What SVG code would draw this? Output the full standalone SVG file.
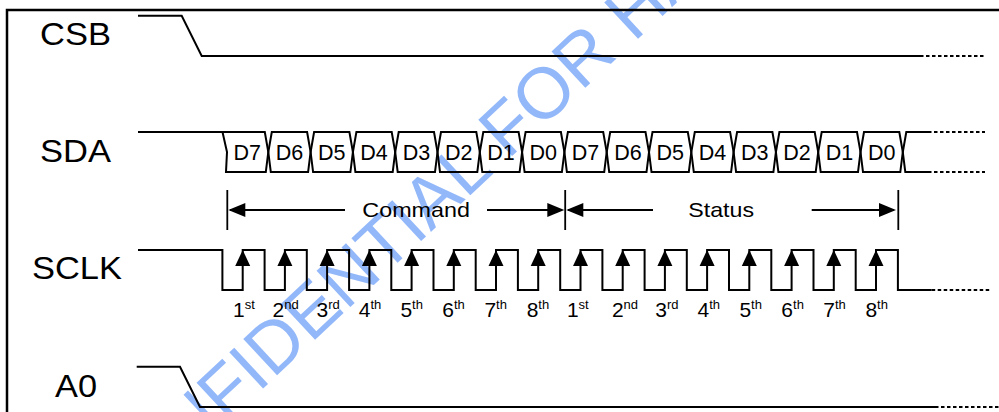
<svg xmlns="http://www.w3.org/2000/svg" xmlns:xlink="http://www.w3.org/1999/xlink" width="999" height="412" viewBox="0 0 999 412">
<style>
.w{fill:none;stroke:#000;stroke-width:2;stroke-linejoin:miter}
.dot{fill:none;stroke:#000;stroke-width:2;stroke-dasharray:3.5 2.5}
.tk{fill:none;stroke:#000;stroke-width:1.8}
.big{font-family:"Liberation Sans",Arial,sans-serif;font-size:30.5px;fill:#000}
.d{font-family:"Liberation Sans",Arial,sans-serif;font-size:21.5px;fill:#000;text-anchor:middle}
.lbl{font-family:"Liberation Sans",Arial,sans-serif;font-size:21px;fill:#000}
.o{font-family:"Liberation Sans",Arial,sans-serif;font-size:21px;fill:#000;text-anchor:middle}
.sup{font-size:13px}
.wm{font-family:"Liberation Sans",Arial,sans-serif;font-size:72px;fill:#93b8fa}
.hd{fill:#000}
</style>
<defs>
<path id="up" d="M0,0 L-7.5,16 L7.5,16 Z"/>
<path id="lt" d="M0,0 L17,-7 L17,7 Z"/>
<path id="rt" d="M0,0 L-17,-7 L-17,7 Z"/>
</defs>
<rect width="999" height="412" fill="#fff"/>
<text class="wm" transform="translate(109,532) rotate(-43)">CONFIDENTIAL FOR HA</text>
<path d="M7,412 V10 H999" fill="none" stroke="#000" stroke-width="2.5"/>

<g id="CSB">
<text class="big" x="40" y="45" textLength="71" lengthAdjust="spacingAndGlyphs">CSB</text>
<path class="w" d="M138,15.7 H181.7 L201.7,56 H920"/>
<path class="dot" d="M920,56 H985"/>
</g>

<g id="SDA">
<text class="big" x="40" y="162" textLength="71" lengthAdjust="spacingAndGlyphs">SDA</text>
<path class="w" d="M138,132 H222.5"/>
<path class="w" d="M222.5,132 H264.8 L268.3,152 L265.8,172 H226 L227,152 Z"/>
<path class="w" d="M271.8,132 H307.1 L310.6,152 L308.1,172 H270.8 L268.3,152 Z"/>
<path class="w" d="M314.1,132 H349.4 L352.9,152 L350.4,172 H313.1 L310.6,152 Z"/>
<path class="w" d="M356.4,132 H391.7 L395.2,152 L392.7,172 H355.4 L352.9,152 Z"/>
<path class="w" d="M398.7,132 H434 L437.5,152 L435,172 H397.7 L395.2,152 Z"/>
<path class="w" d="M441,132 H476.3 L479.8,152 L477.3,172 H440 L437.5,152 Z"/>
<path class="w" d="M483.3,132 H518.6 L522.1,152 L519.6,172 H482.3 L479.8,152 Z"/>
<path class="w" d="M525.6,132 H560.9 L564.4,152 L561.9,172 H524.6 L522.1,152 Z"/>
<path class="w" d="M567.9,132 H603.2 L606.7,152 L604.2,172 H566.9 L564.4,152 Z"/>
<path class="w" d="M610.2,132 H645.5 L649,152 L646.5,172 H609.2 L606.7,152 Z"/>
<path class="w" d="M652.5,132 H687.8 L691.3,152 L688.8,172 H651.5 L649,152 Z"/>
<path class="w" d="M694.8,132 H730.1 L733.6,152 L731.1,172 H693.8 L691.3,152 Z"/>
<path class="w" d="M737.1,132 H772.4 L775.9,152 L773.4,172 H736.1 L733.6,152 Z"/>
<path class="w" d="M779.4,132 H814.7 L818.2,152 L815.7,172 H778.4 L775.9,152 Z"/>
<path class="w" d="M821.7,132 H857 L860.5,152 L858,172 H820.7 L818.2,152 Z"/>
<path class="w" d="M864,132 H899.3 L902.8,152 L900.3,172 H863 L860.5,152 Z"/>
<path class="w" d="M928,132 H906.3 L902.8,152 L905.3,172 H928"/>
<path class="dot" d="M928,132 H985 M928,172 H985"/>
<text class="d" x="247.2" y="160">D7</text>
<text class="d" x="289.5" y="160">D6</text>
<text class="d" x="331.8" y="160">D5</text>
<text class="d" x="374.1" y="160">D4</text>
<text class="d" x="416.4" y="160">D3</text>
<text class="d" x="458.7" y="160">D2</text>
<text class="d" x="501" y="160">D1</text>
<text class="d" x="543.3" y="160">D0</text>
<text class="d" x="585.6" y="160">D7</text>
<text class="d" x="627.9" y="160">D6</text>
<text class="d" x="670.2" y="160">D5</text>
<text class="d" x="712.5" y="160">D4</text>
<text class="d" x="754.8" y="160">D3</text>
<text class="d" x="797.1" y="160">D2</text>
<text class="d" x="839.4" y="160">D1</text>
<text class="d" x="881.7" y="160">D0</text>
</g>

<g id="frames">
<path class="tk" d="M227.3,190 V230 M565.2,190 V230 M898.3,190 V230"/>
<path class="tk" d="M230,210 H345 M487,210 H562 M568,210 H653 M811.7,210 H894"/>
<use href="#lt" class="hd" x="228.3" y="210"/>
<use href="#rt" class="hd" x="564.3" y="210"/>
<use href="#lt" class="hd" x="566.3" y="210"/>
<use href="#rt" class="hd" x="896" y="210"/>
<text class="lbl" x="362.3" y="217" textLength="107.7" lengthAdjust="spacingAndGlyphs">Command</text>
<text class="lbl" x="688.3" y="217" textLength="65.7" lengthAdjust="spacingAndGlyphs">Status</text>
</g>

<g id="SCLK">
<text class="big" x="32" y="279" textLength="90" lengthAdjust="spacingAndGlyphs">SCLK</text>
<path class="w" d="M138,250 H222.4 V290 H242.7 V250 H264.6 V290 H284.9 V250 H306.8 V290 H327.1 V250 H349.1 V290 H369.4 V250 H391.3 V290 H411.6 V250 H433.5 V290 H453.8 V250 H475.7 V290 H496 V250 H517.9 V290 H538.2 V250 H560.2 V290 H580.5 V250 H602.4 V290 H622.7 V250 H644.6 V290 H664.9 V250 H686.8 V290 H707.1 V250 H729 V290 H749.3 V250 H771.3 V290 H791.6 V250 H813.5 V290 H833.8 V250 H855.7 V290 H876 V250 H897.9 V290 H931.7"/>
<path class="dot" d="M931.7,290 H990"/>
<g class="hd">
<use href="#up" x="242.7" y="250"/>
<use href="#up" x="284.9" y="250"/>
<use href="#up" x="327.1" y="250"/>
<use href="#up" x="369.4" y="250"/>
<use href="#up" x="411.6" y="250"/>
<use href="#up" x="453.8" y="250"/>
<use href="#up" x="496" y="250"/>
<use href="#up" x="538.2" y="250"/>
<use href="#up" x="580.5" y="250"/>
<use href="#up" x="622.7" y="250"/>
<use href="#up" x="664.9" y="250"/>
<use href="#up" x="707.1" y="250"/>
<use href="#up" x="749.3" y="250"/>
<use href="#up" x="791.6" y="250"/>
<use href="#up" x="833.8" y="250"/>
<use href="#up" x="876" y="250"/>
</g>
<text class="o" x="244" y="316.5">1<tspan class="sup" dy="-8">st</tspan></text>
<text class="o" x="285.7" y="316.5">2<tspan class="sup" dy="-8">nd</tspan></text>
<text class="o" x="328.2" y="316.5">3<tspan class="sup" dy="-8">rd</tspan></text>
<text class="o" x="370" y="316.5">4<tspan class="sup" dy="-8">th</tspan></text>
<text class="o" x="411.7" y="316.5">5<tspan class="sup" dy="-8">th</tspan></text>
<text class="o" x="453.5" y="316.5">6<tspan class="sup" dy="-8">th</tspan></text>
<text class="o" x="495.7" y="316.5">7<tspan class="sup" dy="-8">th</tspan></text>
<text class="o" x="537.9" y="316.5">8<tspan class="sup" dy="-8">th</tspan></text>
<text class="o" x="577.8" y="316.5">1<tspan class="sup" dy="-8">st</tspan></text>
<text class="o" x="625" y="316.5">2<tspan class="sup" dy="-8">nd</tspan></text>
<text class="o" x="666.9" y="316.5">3<tspan class="sup" dy="-8">rd</tspan></text>
<text class="o" x="708.8" y="316.5">4<tspan class="sup" dy="-8">th</tspan></text>
<text class="o" x="750.7" y="316.5">5<tspan class="sup" dy="-8">th</tspan></text>
<text class="o" x="792.6" y="316.5">6<tspan class="sup" dy="-8">th</tspan></text>
<text class="o" x="834.5" y="316.5">7<tspan class="sup" dy="-8">th</tspan></text>
<text class="o" x="876.7" y="316.5">8<tspan class="sup" dy="-8">th</tspan></text>
</g>

<g id="A0">
<text class="big" x="55" y="397" textLength="42" lengthAdjust="spacingAndGlyphs">A0</text>
<path class="w" d="M136.7,366.7 H180 L200,407 H935"/>
<path class="dot" d="M935,407 H999"/>
</g>
</svg>
